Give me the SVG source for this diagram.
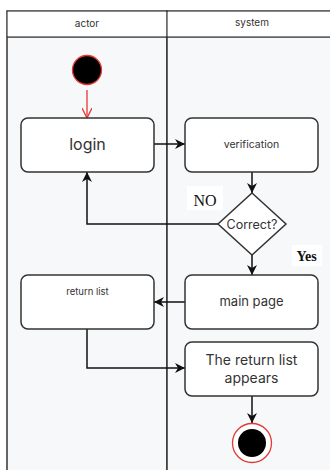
<svg xmlns="http://www.w3.org/2000/svg" width="330" height="470" viewBox="0 0 330 470">
<defs>
<style>
.lane{fill:#f7f8fa;stroke:#333;stroke-width:1.5}
.box{fill:#fff;stroke:#333;stroke-width:1.5}
.t{font-family:"Inter","Noto Sans",sans-serif;fill:#333;text-anchor:middle}
.c{fill:none;stroke:#111;stroke-width:1.5}
.lbl{font-family:"Liberation Serif",serif;fill:#111;text-anchor:middle}
</style>
<marker id="ah" viewBox="0 0 10 10" refX="10" refY="5" markerWidth="10" markerHeight="10" orient="auto" markerUnits="userSpaceOnUse">
<path d="M0,0 L10,5 L0,10 L3,5 Z" fill="#111"/>
</marker>
<marker id="ahr" viewBox="0 0 10 10" refX="10" refY="5" markerWidth="10" markerHeight="10" orient="auto" markerUnits="userSpaceOnUse">
<path d="M0,0 L10,5 L0,10" fill="none" stroke="#e53935" stroke-width="1.3"/>
</marker>
</defs>
<rect width="330" height="470" fill="#fff"/>
<g id="lanes">
<rect class="lane" x="7" y="11" width="160" height="470"/>
<rect class="lane" x="167" y="11" width="170" height="470"/>
<line x1="7" y1="37" x2="330" y2="37" stroke="#333" stroke-width="1.5"/>
<rect x="7.75" y="11.75" width="158.5" height="24.5" fill="#fff"/>
<rect x="167.75" y="11.75" width="165" height="24.5" fill="#fff"/>
<text class="t" x="87" y="27" font-size="10">actor</text>
<text class="t" x="252" y="26" font-size="10">system</text>
</g>
<g id="connectors">
<line x1="87" y1="90" x2="87" y2="118" stroke="#e53935" stroke-width="1.3" marker-end="url(#ahr)"/>
<line class="c" x1="154" y1="144" x2="185" y2="144" marker-end="url(#ah)"/>
<line class="c" x1="252" y1="172" x2="252" y2="193" marker-end="url(#ah)"/>
<polyline class="c" points="218,224 87,224 87,172" marker-end="url(#ah)"/>
<line class="c" x1="252" y1="255" x2="252" y2="275" marker-end="url(#ah)"/>
<line class="c" x1="185" y1="302" x2="154" y2="302" marker-end="url(#ah)"/>
<polyline class="c" points="87,329 87,368 185,368" marker-end="url(#ah)"/>
<line class="c" x1="252" y1="396" x2="252" y2="423" marker-end="url(#ah)"/>
</g>
<g id="start"><circle cx="87" cy="70" r="14.5" fill="#000" stroke="#e53935" stroke-width="1.3"/></g>
<g id="login"><rect class="box" x="21" y="118" width="133" height="54" rx="7"/><text class="t" x="87.5" y="150" font-size="16">login</text></g>
<g id="verification"><rect class="box" x="185" y="118" width="133" height="54" rx="7"/><text class="t" x="251.5" y="148" font-size="10.5" fill="#555">verification</text></g>
<g id="correct"><polygon class="box" points="252,193 286,224 252,255 218,224"/><text class="t" x="252" y="228.5" font-size="12.5">Correct?</text></g>
<g id="no"><rect x="187" y="186" width="36" height="24" fill="#fff"/><text class="lbl" x="205" y="205.5" font-size="16">NO</text></g>
<g id="yes"><rect x="292" y="245" width="30" height="21" fill="#fff"/><text class="lbl" x="306.5" y="260.5" font-size="14" font-weight="600">Yes</text></g>
<g id="returnlist"><rect class="box" x="21" y="275" width="133" height="54" rx="7"/><text class="t" x="87.5" y="295" font-size="9.5">return list</text></g>
<g id="mainpage"><rect class="box" x="185" y="275" width="133" height="54" rx="7"/><text class="t" x="251.5" y="306" font-size="13">main page</text></g>
<g id="appears"><rect class="box" x="185" y="342" width="133" height="54" rx="7"/><text class="t" x="251.5" y="365" font-size="14">The return list</text><text class="t" x="251.5" y="383" font-size="14">appears</text></g>
<g id="end"><circle cx="252" cy="443" r="19.5" fill="#fff" stroke="#e53935" stroke-width="1.3"/><circle cx="252" cy="443" r="14" fill="#000"/></g>
</svg>
